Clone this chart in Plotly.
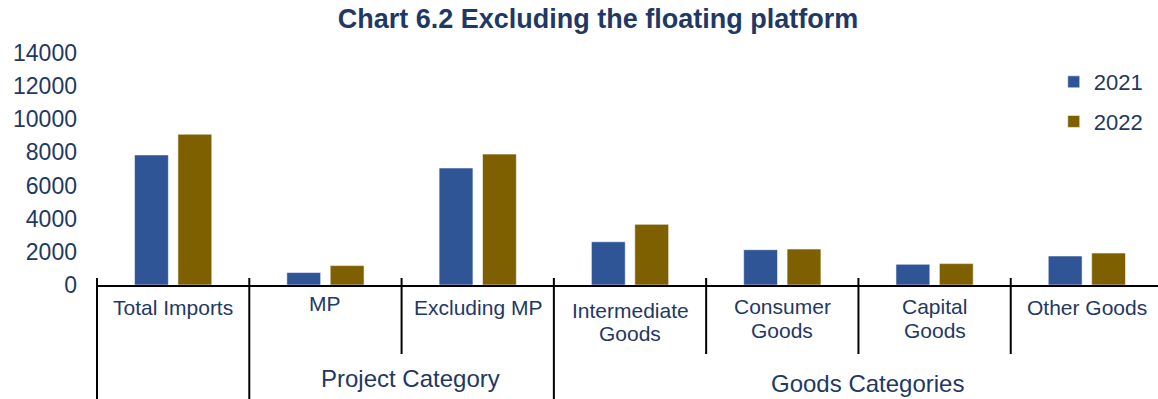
import plotly.graph_objects as go

# Category labels (lines split on "\n") and their groups
categories = ["Total Imports", "MP", "Excluding MP", "Intermediate\nGoods",
              "Consumer\nGoods", "Capital\nGoods", "Other Goods"]
groups = [("Project Category", 1, 2), ("Goods Categories", 3, 6)]

years = ["2021", "2022"]
values_2021 = [7850, 750, 7060, 2610, 2130, 1250, 1750]
values_2022 = [9100, 1170, 7900, 3660, 2170, 1290, 1930]

y_ticks = [0, 2000, 4000, 6000, 8000, 10000, 12000, 14000]

BLUE = "#2F5597"
GOLD = "#7F6000"
NAVY = "#1F3864"
FONT = "Liberation Sans, Arial, sans-serif"

x_pos = list(range(len(categories)))
x_range = [-0.5, len(categories) - 0.5 - 0.033]

fig = go.Figure()
for name, vals, col, grp in [(years[0], values_2021, BLUE, "a"), (years[1], values_2022, GOLD, "b")]:
    fig.add_trace(go.Bar(
        x=x_pos, y=vals, name=name, legendgroup=grp,
        marker=dict(color=col, line=dict(color="rgba(255,255,255,0.55)", width=1)),
        hoverinfo="skip",
    ))

H = 399
TOP, BOTTOM = 53, 285           # pixel rows of plot top / axis line
PLOT_H = BOTTOM - TOP


def py(pixel_y):
    """paper y coordinate for a pixel row"""
    return (BOTTOM - pixel_y) / PLOT_H


def px_paper(xd):
    return (xd - x_range[0]) / (x_range[1] - x_range[0])


# category labels under the axis
label_rows = {1: [307], 2: [310, 333]}
label_rows_alt = {3: [310, 333], 4: [306, 330], 5: [306, 330], 1: [303]}
annotations = []
for i, cat in enumerate(categories):
    lines = cat.split("\n")
    if i in label_rows_alt and len(label_rows_alt[i]) == len(lines):
        rows = label_rows_alt[i]
    else:
        rows = label_rows[len(lines)]
    for line, row in zip(lines, rows):
        annotations.append(dict(
            x=i, y=py(row), xref="x", yref="paper", text=line, showarrow=False,
            xanchor="center", yanchor="middle",
            font=dict(family=FONT, size=21, color=NAVY),
        ))

group_rows = [378, 383]
for (gname, a, b), row in zip(groups, group_rows):
    annotations.append(dict(
        x=(a + b) / 2, y=py(row), xref="x", yref="paper", text=gname, showarrow=False,
        xanchor="center", yanchor="middle", xshift=9,
        font=dict(family=FONT, size=24, color=NAVY),
    ))

# divider lines between categories
long_dividers = [-0.5, 0.5, 2.5]
short_dividers = [1.5, 3.5, 4.5, 5.5]
shapes = []
for xd in long_dividers + short_dividers:
    bottom = py(420) if xd in long_dividers else py(354)
    xp = px_paper(xd)
    shapes.append(dict(type="line", xref="paper", yref="paper",
                       x0=xp, x1=xp, y0=py(278), y1=bottom,
                       line=dict(color="black", width=2)))

fig.update_layout(
    width=1158, height=H,
    margin=dict(l=97, r=0, t=TOP, b=H - BOTTOM, pad=0),
    paper_bgcolor="white", plot_bgcolor="white",
    barmode="group", bargap=0.43, bargroupgap=0.22,
    title=dict(text="<b>Chart 6.2 Excluding the floating platform</b>",
               x=598 / 1158, xanchor="center", xref="container",
               y=1 - 19 / H, yanchor="middle", yref="container",
               font=dict(family=FONT, size=27, color=NAVY)),
    xaxis=dict(range=x_range, showticklabels=False, showgrid=False, zeroline=False,
               showline=True, linecolor="black", linewidth=2, ticks=""),
    yaxis=dict(range=[0, 14000], tickvals=y_ticks, ticktext=[str(v) for v in y_ticks],
               showgrid=False, zeroline=False, showline=False, ticks="",
               ticklabelstandoff=19,
               tickfont=dict(family=FONT, size=23, color=NAVY)),
    legend=dict(x=px_paper(6.5) - 0.103, y=py(61), xanchor="left", yanchor="top",
                xref="paper", yref="paper",
                traceorder="grouped", tracegroupgap=8,
                bgcolor="rgba(0,0,0,0)",
                font=dict(family=FONT, size=22, color=NAVY)),
    annotations=annotations,
    shapes=shapes,
    showlegend=True,
)

fig.write_html("out.html")
